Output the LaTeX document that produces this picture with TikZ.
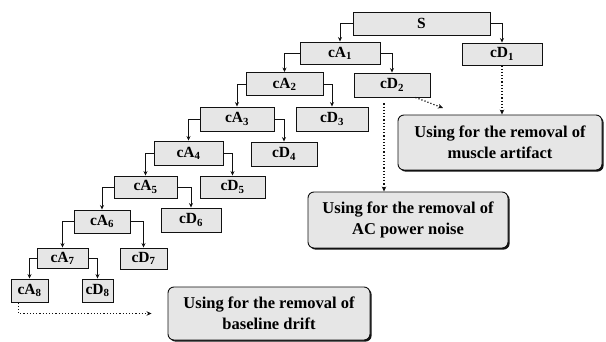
\documentclass[tikz,border=0pt]{standalone}
\usepackage{fontspec}
\setmainfont{Liberation Serif}
\usepackage{tikz}
\usetikzlibrary{arrows.meta,shadows}
\definecolor{boxfill}{HTML}{E6E6E6}
\definecolor{ink}{HTML}{111111}
\tikzset{
  coef/.style={draw=ink,fill=boxfill,line width=0.9pt,inner sep=0pt,
               font=\fontsize{15.5}{16}\selectfont\bfseries},
  usebox/.style={draw=ink,fill=boxfill,line width=0.9pt,rounded corners=6pt,
                 align=center,inner sep=0pt,
                 font=\fontsize{16.5}{21}\selectfont\bfseries,
                 drop shadow={opacity=1,fill=ink,shadow xshift=1.6pt,
                              shadow yshift=-1.6pt}},
  treearr/.style={-{Stealth[length=4.5pt,width=4pt]},line width=0.8pt,draw=ink},
  dotarr/.style={-{Stealth[length=5pt,width=4.5pt]},line width=1.2pt,
                 draw=ink,dotted}
}
\begin{document}
\begin{tikzpicture}[x=1pt,y=-1pt]
    \path[use as bounding box] (0,0) rectangle (606,342);
    % wavelet decomposition tree
    \node[coef,minimum width=137pt,minimum height=23pt] (s) at (421.5,23.5) {S};
    \node[coef,minimum width=80pt,minimum height=22pt] (ca1) at (340,53) {cA\textsubscript{1}};
    \node[coef,minimum width=80pt,minimum height=22pt] (cd1) at (502,54) {cD\textsubscript{1}};
    \node[coef,minimum width=77pt,minimum height=23pt] (ca2) at (284.5,84) {cA\textsubscript{2}};
    \node[coef,minimum width=76pt,minimum height=24pt] (cd2) at (392,85) {cD\textsubscript{2}};
    \node[coef,minimum width=74pt,minimum height=24pt] (ca3) at (237,119) {cA\textsubscript{3}};
    \node[coef,minimum width=72pt,minimum height=24pt] (cd3) at (332,119) {cD\textsubscript{3}};
    \node[coef,minimum width=69pt,minimum height=24pt] (ca4) at (188.5,153) {cA\textsubscript{4}};
    \node[coef,minimum width=66pt,minimum height=24pt] (cd4) at (284,154) {cD\textsubscript{4}};
    \node[coef,minimum width=63pt,minimum height=22pt] (ca5) at (145.5,187) {cA\textsubscript{5}};
    \node[coef,minimum width=65pt,minimum height=22pt] (cd5) at (232.5,187) {cD\textsubscript{5}};
    \node[coef,minimum width=56pt,minimum height=23pt] (ca6) at (102,221.5) {cA\textsubscript{6}};
    \node[coef,minimum width=60pt,minimum height=24pt] (cd6) at (191,220) {cD\textsubscript{6}};
    \node[coef,minimum width=51pt,minimum height=20pt] (ca7) at (62.5,258) {cA\textsubscript{7}};
    \node[coef,minimum width=47pt,minimum height=21pt] (cd7) at (143.5,258.5) {cD\textsubscript{7}};
    \node[coef,minimum width=37pt,minimum height=23pt] (ca8) at (29.5,290.5) {cA\textsubscript{8}};
    \node[coef,minimum width=31pt,minimum height=23pt] (cd8) at (97.5,290.5) {cD\textsubscript{8}};

    \draw[treearr] (s.west) -| (ca1.north);
    \draw[treearr] (s.east) -| (cd1.north);
    \draw[treearr] (ca1.west) -| (ca2.north);
    \draw[treearr] (ca1.east) -| (cd2.north);
    \draw[treearr] (ca2.west) -| (ca3.north);
    \draw[treearr] (ca2.east) -| (cd3.north);
    \draw[treearr] (ca3.west) -| (ca4.north);
    \draw[treearr] (ca3.east) -| (cd4.north);
    \draw[treearr] (ca4.west) -| (ca5.north);
    \draw[treearr] (ca4.east) -| (cd5.north);
    \draw[treearr] (ca5.west) -| (ca6.north);
    \draw[treearr] (ca5.east) -| (cd6.north);
    \draw[treearr] (ca6.west) -| (ca7.north);
    \draw[treearr] (ca6.east) -| (cd7.north);
    \draw[treearr] (ca7.west) -| (ca8.north);
    \draw[treearr] (ca7.east) -| (cd8.north);

    % what each band is used for
    \node[usebox,minimum width=204pt,minimum height=55pt] (muscle) at (500,142.5)
      {Using for the removal of\\muscle artifact};
    \node[usebox,minimum width=200pt,minimum height=56pt] (noise) at (408,220)
      {Using for the removal of\\AC power noise};
    \node[usebox,minimum width=202pt,minimum height=53pt] (drift) at (269,313.5)
      {Using for the removal of\\baseline drift};
    \coordinate (mtip) at (443,108);

    \draw[dotarr] (cd1.south) -- (cd1.south |- muscle.north);
    \draw[dotarr] ([xshift=-15pt]cd2.south east) -- (mtip);
    \draw[dotarr] ([xshift=-8pt,yshift=-6pt]cd2.south) -- ([xshift=-8pt]cd2.south |- noise.north);
    \draw[dotarr] ([xshift=-11pt]ca8.south) |- ([xshift=-16pt]drift.west);
  \end{tikzpicture}
\end{document}
